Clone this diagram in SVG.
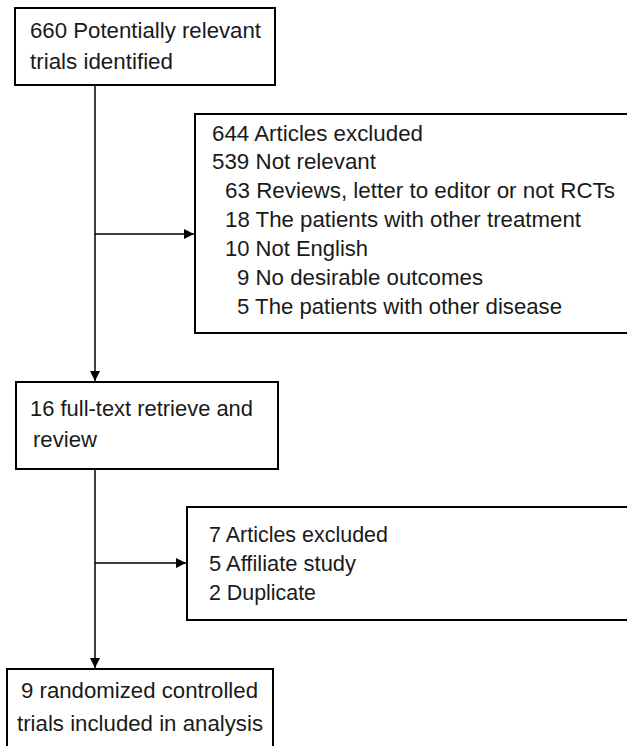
<svg xmlns="http://www.w3.org/2000/svg" width="627" height="746" viewBox="0 0 627 746">
<style>
.box{fill:#fff;stroke:#000;stroke-width:2}
.t{font-family:"Liberation Sans",Arial,sans-serif;font-size:21.5px;fill:#1a1a1a}
.c{stroke:#000;stroke-width:1.5;fill:none}
</style>
<defs>
<marker id="ah" viewBox="0 0 10 10" refX="10" refY="5" markerWidth="10" markerHeight="10" markerUnits="userSpaceOnUse" orient="auto">
<path d="M0,0 L10,5 L0,10 Z" fill="#000"/>
</marker>
</defs>
<rect width="627" height="746" fill="#fff"/>
<g id="connectors">
<line class="c" x1="95" y1="85" x2="95" y2="381" marker-end="url(#ah)"/>
<line class="c" x1="95" y1="234" x2="194" y2="234" marker-end="url(#ah)"/>
<line class="c" x1="95" y1="469" x2="95" y2="668" marker-end="url(#ah)"/>
<line class="c" x1="95" y1="563" x2="186" y2="563" marker-end="url(#ah)"/>
</g>
<g id="n1">
<rect class="box" x="15" y="8" width="260" height="77"/>
<text class="t" x="30" y="38" textLength="231" lengthAdjust="spacingAndGlyphs">660 Potentially relevant</text>
<text class="t" x="30" y="69" textLength="143" lengthAdjust="spacingAndGlyphs">trials identified</text>
</g>
<g id="n2">
<rect class="box" x="195" y="114" width="440" height="219"/>
<text class="t" x="212" y="141" textLength="211" lengthAdjust="spacingAndGlyphs">644 Articles excluded</text>
<text class="t" x="212" y="169" textLength="164" lengthAdjust="spacingAndGlyphs">539 Not relevant</text>
<text class="t" x="225" y="198" textLength="390" lengthAdjust="spacingAndGlyphs">63 Reviews, letter to editor or not RCTs</text>
<text class="t" x="225" y="227" textLength="356" lengthAdjust="spacingAndGlyphs">18 The patients with other treatment</text>
<text class="t" x="225" y="256" textLength="143" lengthAdjust="spacingAndGlyphs">10 Not English</text>
<text class="t" x="237" y="285" textLength="246" lengthAdjust="spacingAndGlyphs">9 No desirable outcomes</text>
<text class="t" x="237" y="314" textLength="325" lengthAdjust="spacingAndGlyphs">5 The patients with other disease</text>
</g>
<g id="n3">
<rect class="box" x="16" y="382" width="262" height="87"/>
<text class="t" x="30" y="416" textLength="223" lengthAdjust="spacingAndGlyphs">16 full-text retrieve and</text>
<text class="t" x="33" y="447" textLength="64" lengthAdjust="spacingAndGlyphs">review</text>
</g>
<g id="n4">
<rect class="box" x="187" y="507" width="450" height="113"/>
<text class="t" x="209" y="542" textLength="179" lengthAdjust="spacingAndGlyphs">7 Articles excluded</text>
<text class="t" x="209" y="571" textLength="147" lengthAdjust="spacingAndGlyphs">5 Affiliate study</text>
<text class="t" x="209" y="600" textLength="107" lengthAdjust="spacingAndGlyphs">2 Duplicate</text>
</g>
<g id="n5">
<rect class="box" x="7" y="669" width="266" height="90"/>
<text class="t" x="21" y="698" textLength="237" lengthAdjust="spacingAndGlyphs">9 randomized controlled</text>
<text class="t" x="17" y="731" textLength="246" lengthAdjust="spacingAndGlyphs">trials included in analysis</text>
</g>
</svg>
